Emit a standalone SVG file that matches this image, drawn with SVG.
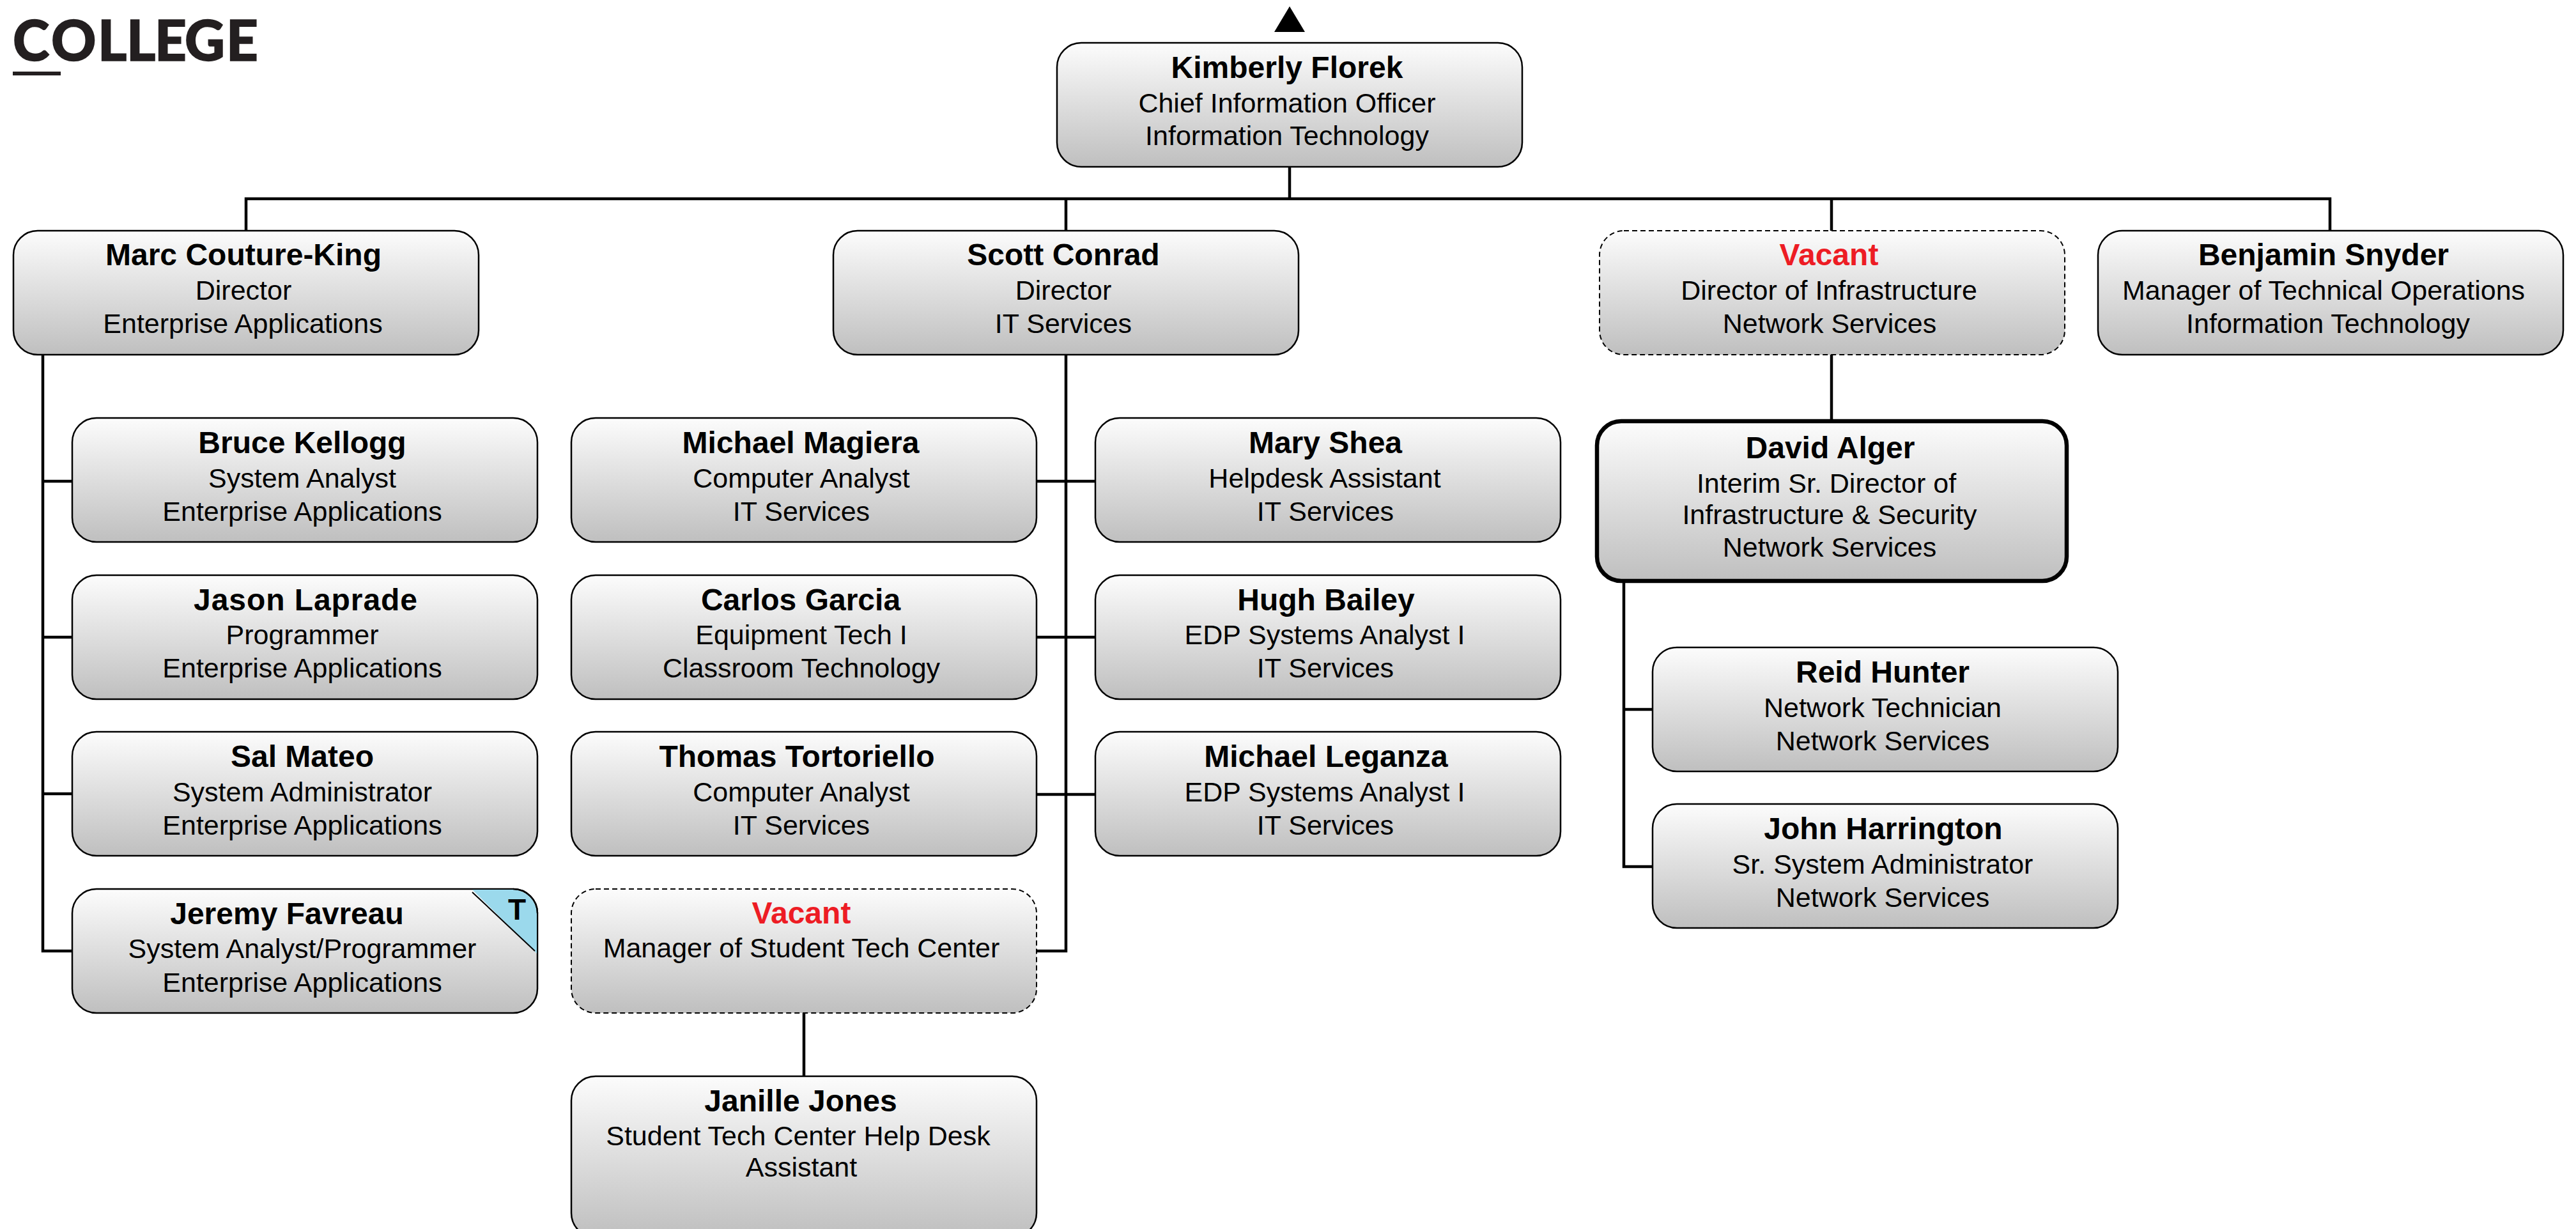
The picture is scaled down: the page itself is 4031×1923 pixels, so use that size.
<svg xmlns="http://www.w3.org/2000/svg" width="4031" height="1923" viewBox="0 0 4031 1923">
<style>
text{font-family:"Liberation Sans",Arial,sans-serif;text-anchor:middle;fill:#000}
.n{font-size:48px;font-weight:700}
.t{font-size:43px}
.v{fill:#ed1c24}
.b{fill:url(#g);stroke:#000;stroke-width:2.5}
.d{stroke-dasharray:8 5;stroke-width:2}
.h{stroke-width:6.5}
.c{fill:none;stroke:#000;stroke-width:4.5}
</style>
<defs><linearGradient id="g" x1="0" y1="0" x2="0" y2="1"><stop offset="0" stop-color="#fcfcfc"/><stop offset="1" stop-color="#bfbfbf"/></linearGradient></defs>
<rect width="4031" height="1923" fill="#fff"/>
<g id="logo"><text x="20 80 153 198 242 289 354" y="95" style="font-family:Lato,sans-serif;font-weight:900;font-size:87px;fill:#231f20;stroke:#231f20;stroke-width:1.5;text-anchor:start">COLLEGE</text><rect x="20" y="112" width="75" height="6" fill="#231f20"/></g>
<polygon id="up-arrow" points="2018,10 2042,50 1994,50" fill="#000"/>
<g id="connectors" class="c">
<path d="M2018 261V311M385 361V311H3646V361M1668 311V361M2866 311V361"/>
<path d="M67 555V1488H113M67 753H113M67 997H113M67 1242H113"/>
<path d="M1668 555V1488H1622M1622 753H1714M1622 997H1714M1622 1243H1714M1258 1584V1684"/>
<path d="M2866 555V658M2541 910V1356H2586M2541 1110H2586"/>
</g>
<g id="kimberly"><rect class="b" x="1654" y="67" width="728" height="194" rx="38"/><text class="n" x="2014" y="122">Kimberly Florek</text><text class="t" x="2014" y="176">Chief Information Officer</text><text class="t" x="2014" y="227">Information Technology</text></g>
<g id="marc"><rect class="b" x="21" y="361" width="728" height="194" rx="38"/><text class="n" x="381" y="415">Marc Couture-King</text><text class="t" x="381" y="469">Director</text><text class="t" x="380" y="521">Enterprise Applications</text></g>
<g id="scott"><rect class="b" x="1304" y="361" width="728" height="194" rx="38"/><text class="n" x="1664" y="415">Scott Conrad</text><text class="t" x="1664" y="469">Director</text><text class="t" x="1664" y="521">IT Services</text></g>
<g id="vacant-infra"><rect class="b d" x="2503" y="361" width="728" height="194" rx="38"/><text class="n v" x="2862" y="415">Vacant</text><text class="t" x="2862" y="469">Director of Infrastructure</text><text class="t" x="2863" y="521">Network Services</text></g>
<g id="benjamin"><rect class="b" x="3283" y="361" width="728" height="194" rx="38"/><text class="n" x="3636" y="415">Benjamin Snyder</text><text class="t" x="3636" y="469">Manager of Technical Operations</text><text class="t" x="3643" y="521">Information Technology</text></g>
<g id="bruce"><rect class="b" x="113" y="654" width="728" height="194" rx="38"/><text class="n" x="473" y="709">Bruce Kellogg</text><text class="t" x="473" y="763">System Analyst</text><text class="t" x="473" y="815">Enterprise Applications</text></g>
<g id="jason"><rect class="b" x="113" y="900" width="728" height="194" rx="38"/><text class="n" x="478" y="955" textLength="350">Jason Laprade</text><text class="t" x="473" y="1008">Programmer</text><text class="t" x="473" y="1060">Enterprise Applications</text></g>
<g id="sal"><rect class="b" x="113" y="1145" width="728" height="194" rx="38"/><text class="n" x="473" y="1200">Sal Mateo</text><text class="t" x="473" y="1254">System Administrator</text><text class="t" x="473" y="1306">Enterprise Applications</text></g>
<g id="jeremy"><rect class="b" x="113" y="1391" width="728" height="194" rx="38"/><path d="M739 1392H803A38 38 0 0 1 840 1430V1492Z" fill="#9bd9ec" stroke="none"/><path d="M739 1396L837 1488" fill="none" stroke="#000" stroke-width="2"/><path d="M803 1391A38 38 0 0 1 841 1429" fill="none" stroke="#000" stroke-width="2.5"/><text class="n" x="449" y="1446">Jeremy Favreau</text><text class="t" x="473" y="1499">System Analyst/Programmer</text><text class="t" x="473" y="1552">Enterprise Applications</text><text x="809" y="1439" style="font-size:46px;font-weight:700">T</text></g>
<g id="magiera"><rect class="b" x="894" y="654" width="728" height="194" rx="38"/><text class="n" x="1253" y="709">Michael Magiera</text><text class="t" x="1254" y="763">Computer Analyst</text><text class="t" x="1254" y="815">IT Services</text></g>
<g id="garcia"><rect class="b" x="894" y="900" width="728" height="194" rx="38"/><text class="n" x="1253" y="955">Carlos Garcia</text><text class="t" x="1254" y="1008">Equipment Tech I</text><text class="t" x="1254" y="1060">Classroom Technology</text></g>
<g id="tortoriello"><rect class="b" x="894" y="1145" width="728" height="194" rx="38"/><text class="n" x="1247" y="1200">Thomas Tortoriello</text><text class="t" x="1254" y="1254">Computer Analyst</text><text class="t" x="1254" y="1306">IT Services</text></g>
<g id="vacant-stc"><rect class="b d" x="894" y="1391" width="728" height="194" rx="38"/><text class="n v" x="1254" y="1445">Vacant</text><text class="t" x="1254" y="1498">Manager of Student Tech Center</text></g>
<g id="janille"><rect class="b" x="894" y="1684" width="728" height="252" rx="38"/><text class="n" x="1253" y="1739">Janille Jones</text><text class="t" x="1249" y="1792">Student Tech Center Help Desk</text><text class="t" x="1254" y="1841">Assistant</text></g>
<g id="mary"><rect class="b" x="1714" y="654" width="728" height="194" rx="38"/><text class="n" x="2074" y="709">Mary Shea</text><text class="t" x="2073" y="763">Helpdesk Assistant</text><text class="t" x="2074" y="815">IT Services</text></g>
<g id="bailey"><rect class="b" x="1714" y="900" width="728" height="194" rx="38"/><text class="n" x="2075" y="955">Hugh Bailey</text><text class="t" x="2073" y="1008">EDP Systems Analyst I</text><text class="t" x="2074" y="1060">IT Services</text></g>
<g id="leganza"><rect class="b" x="1714" y="1145" width="728" height="194" rx="38"/><text class="n" x="2075" y="1200">Michael Leganza</text><text class="t" x="2073" y="1254">EDP Systems Analyst I</text><text class="t" x="2074" y="1306">IT Services</text></g>
<g id="alger"><rect class="b h" x="2499" y="659" width="735" height="250" rx="38"/><text class="n" x="2864" y="717">David Alger</text><text class="t" x="2858" y="771">Interim Sr. Director of</text><text class="t" x="2863" y="820">Infrastructure &amp; Security</text><text class="t" x="2863" y="871">Network Services</text></g>
<g id="hunter"><rect class="b" x="2586" y="1013" width="728" height="194" rx="38"/><text class="n" x="2946" y="1068">Reid Hunter</text><text class="t" x="2946" y="1122">Network Technician</text><text class="t" x="2946" y="1174">Network Services</text></g>
<g id="harrington"><rect class="b" x="2586" y="1258" width="728" height="194" rx="38"/><text class="n" x="2947" y="1313">John Harrington</text><text class="t" x="2946" y="1367">Sr. System Administrator</text><text class="t" x="2946" y="1419">Network Services</text></g>
</svg>
